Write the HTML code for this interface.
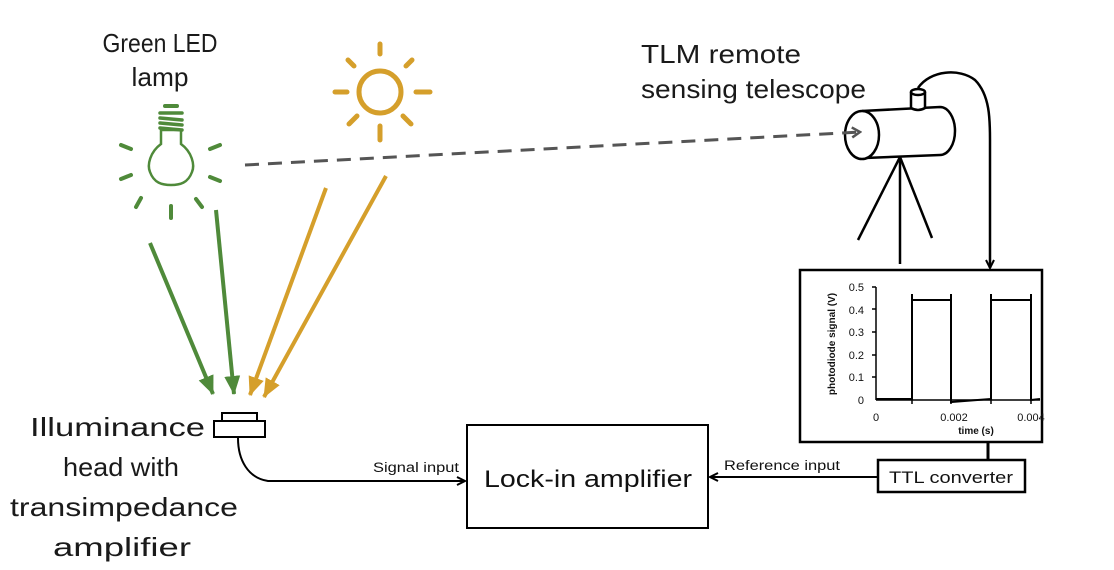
<!DOCTYPE html>
<html><head><meta charset="utf-8"><style>body{margin:0;background:#fff}svg{display:block}</style></head>
<body>
<svg width="1114" height="570" viewBox="0 0 1114 570" xmlns="http://www.w3.org/2000/svg" font-family="Liberation Sans, sans-serif">
<defs>
<marker id="ag" markerWidth="20" markerHeight="20" refX="18" refY="10" orient="auto" markerUnits="userSpaceOnUse"><path d="M0,2 L19,10 L0,18 z" fill="#4f8a3a"/></marker>
<marker id="ao" markerWidth="20" markerHeight="20" refX="18" refY="10" orient="auto" markerUnits="userSpaceOnUse"><path d="M0,2 L19,10 L0,18 z" fill="#d59f2b"/></marker>
<marker id="ak" markerWidth="10" markerHeight="10" refX="9" refY="5" orient="auto" markerUnits="userSpaceOnUse"><path d="M1,1 L9,5 L1,9" fill="none" stroke="#000" stroke-width="2"/></marker>
<marker id="ad" markerWidth="12" markerHeight="12" refX="10" refY="6" orient="auto" markerUnits="userSpaceOnUse"><path d="M2,1 L10,6 L2,11" fill="none" stroke="#555" stroke-width="2.5"/></marker>
</defs>
<g fill="#1a1a1a" font-size="26">
<text x="160" y="52" text-anchor="middle" font-size="26" textLength="115" lengthAdjust="spacingAndGlyphs">Green LED</text>
<text x="160" y="86" text-anchor="middle" font-size="26" textLength="57" lengthAdjust="spacingAndGlyphs">lamp</text>
<text x="641" y="63" textLength="160" lengthAdjust="spacingAndGlyphs">TLM remote</text>
<text x="641" y="98" textLength="225" lengthAdjust="spacingAndGlyphs">sensing telescope</text>
<text x="30" y="436" textLength="175" lengthAdjust="spacingAndGlyphs">Illuminance</text>
<text x="121" y="476" text-anchor="middle" textLength="116" lengthAdjust="spacingAndGlyphs">head with</text>
<text x="124" y="516" text-anchor="middle" textLength="228" lengthAdjust="spacingAndGlyphs">transimpedance</text>
<text x="122" y="556" text-anchor="middle" textLength="138" lengthAdjust="spacingAndGlyphs">amplifier</text>
</g>
<!-- bulb -->
<g stroke="#4f8a3a" fill="none" stroke-width="2.5" stroke-linecap="round">
<path d="M161,130 L161,144 C150,152 147,165 150,172 C154,183 162,185 171,185 C180,185 188,183 192,172 C195,165 192,152 181,144 L181,130 Z" fill="#fff"/>
<g stroke-width="3.5"><line x1="160" y1="113" x2="182" y2="113"/><line x1="160" y1="118" x2="182" y2="120"/><line x1="160" y1="123" x2="182" y2="125"/><line x1="160" y1="128" x2="182" y2="130"/></g>
<line x1="165" y1="106" x2="177" y2="106" stroke-width="4"/>
<g stroke-width="4"><line x1="121" y1="145" x2="131" y2="149"/><line x1="121" y1="179" x2="131" y2="175"/><line x1="210" y1="149" x2="220" y2="145"/><line x1="210" y1="177" x2="220" y2="181"/><line x1="141" y1="198" x2="136" y2="207"/><line x1="171" y1="206" x2="171" y2="218"/><line x1="196" y1="199" x2="202" y2="207"/></g>
</g>
<!-- sun -->
<g stroke="#d59f2b" fill="none" stroke-width="5" stroke-linecap="round">
<circle cx="380" cy="92" r="21"/>
<line x1="380" y1="44" x2="380" y2="54"/><line x1="380" y1="126" x2="380" y2="140"/>
<line x1="335" y1="92" x2="347" y2="92"/><line x1="416" y1="92" x2="430" y2="92"/>
<line x1="348" y1="60" x2="354" y2="66"/><line x1="412" y1="60" x2="406" y2="66"/>
<line x1="349" y1="124" x2="357" y2="116"/><line x1="411" y1="124" x2="403" y2="116"/>
</g>
<!-- rays -->
<line x1="150" y1="243" x2="213" y2="394" stroke="#4f8a3a" stroke-width="4" marker-end="url(#ag)"/>
<line x1="216" y1="210" x2="234" y2="394" stroke="#4f8a3a" stroke-width="4" marker-end="url(#ag)"/>
<line x1="326" y1="188" x2="250" y2="395" stroke="#d59f2b" stroke-width="4" marker-end="url(#ao)"/>
<line x1="386" y1="176" x2="264" y2="397" stroke="#d59f2b" stroke-width="4" marker-end="url(#ao)"/>
<!-- telescope -->
<g stroke="#000" stroke-width="2.5" fill="none">
<path d="M862,111 L940,107 A15,24 0 0 1 940,155 L865,158" fill="#fff"/>
<ellipse cx="862" cy="135" rx="17" ry="24" fill="#fff"/>
<path d="M911,92 L911,108 Q918,112 925,108 L925,92" fill="#fff"/>
<ellipse cx="918" cy="92" rx="7" ry="3" fill="#fff"/>
<line x1="900" y1="157" x2="858" y2="240"/><line x1="900" y1="157" x2="900" y2="264"/><line x1="900" y1="157" x2="932" y2="238"/>
<path d="M918,88 C930,70 960,68 975,80 C990,95 990,120 990,140 L990,268" marker-end="url(#ak)"/>
</g>
<!-- dashed -->
<line x1="245" y1="165" x2="860" y2="132" stroke="#555" stroke-width="3" stroke-dasharray="14,9" marker-end="url(#ad)"/>
<!-- graph box -->
<rect x="800" y="270" width="242" height="172" fill="#fff" stroke="#000" stroke-width="2.5"/>
<g font-size="11" fill="#111" text-anchor="end">
<text x="864" y="291">0.5</text><text x="864" y="314">0.4</text><text x="864" y="336">0.3</text><text x="864" y="359">0.2</text><text x="864" y="381">0.1</text><text x="864" y="404">0</text>
</g>
<g font-size="11" fill="#111" text-anchor="middle"><text x="876" y="421">0</text><text x="954" y="421">0.002</text><text x="1031" y="421">0.004</text>
<text x="976" y="434" font-weight="bold" font-size="10">time (s)</text></g>
<text transform="translate(835,344) rotate(-90)" font-size="10" font-weight="bold" text-anchor="middle" fill="#111">photodiode signal (V)</text>
<g stroke="#000" stroke-width="1.5" fill="none">
<line x1="876" y1="287" x2="876" y2="400"/><line x1="876" y1="400" x2="1040" y2="400"/>
<line x1="872" y1="287" x2="876" y2="287"/><line x1="872" y1="309" x2="876" y2="309"/><line x1="872" y1="332" x2="876" y2="332"/><line x1="872" y1="355" x2="876" y2="355"/><line x1="872" y1="377" x2="876" y2="377"/>
<line x1="912" y1="400" x2="912" y2="404"/><line x1="951" y1="400" x2="951" y2="404"/><line x1="991" y1="400" x2="991" y2="404"/><line x1="1031" y1="400" x2="1031" y2="404"/>
<path d="M876,399 L912,399 L912,294 L912,300 L951,300 L951,294 L951,402 L991,399 L991,294 L991,300 L1031,300 L1031,294 L1031,400 L1040,399" stroke-width="2"/>
</g>
<line x1="988" y1="442" x2="988" y2="460" stroke="#000" stroke-width="3"/>
<rect x="878" y="460" width="147" height="32" fill="#fff" stroke="#000" stroke-width="2.5"/>
<text x="951" y="483" font-size="17" text-anchor="middle" fill="#111" textLength="124" lengthAdjust="spacingAndGlyphs">TTL converter</text>
<!-- lock-in -->
<rect x="467" y="425" width="241" height="103" fill="#fff" stroke="#000" stroke-width="2"/>
<text x="588" y="487" font-size="24" text-anchor="middle" fill="#111" textLength="208" lengthAdjust="spacingAndGlyphs">Lock-in amplifier</text>
<line x1="878" y1="477" x2="710" y2="477" stroke="#000" stroke-width="2" marker-end="url(#ak)"/>
<text x="724" y="470" font-size="13.5" fill="#111" textLength="116" lengthAdjust="spacingAndGlyphs">Reference input</text>
<path d="M238,438 C238,460 248,478 268,481 L465,481" stroke="#000" stroke-width="2" fill="none" marker-end="url(#ak)"/>
<text x="373" y="472" font-size="13.5" fill="#111" textLength="86" lengthAdjust="spacingAndGlyphs">Signal input</text>
<!-- sensor -->
<rect x="222" y="413" width="35" height="8" fill="#fff" stroke="#000" stroke-width="2"/>
<rect x="214" y="421" width="51" height="16" fill="#fff" stroke="#000" stroke-width="2"/>
</svg>
</body></html>
